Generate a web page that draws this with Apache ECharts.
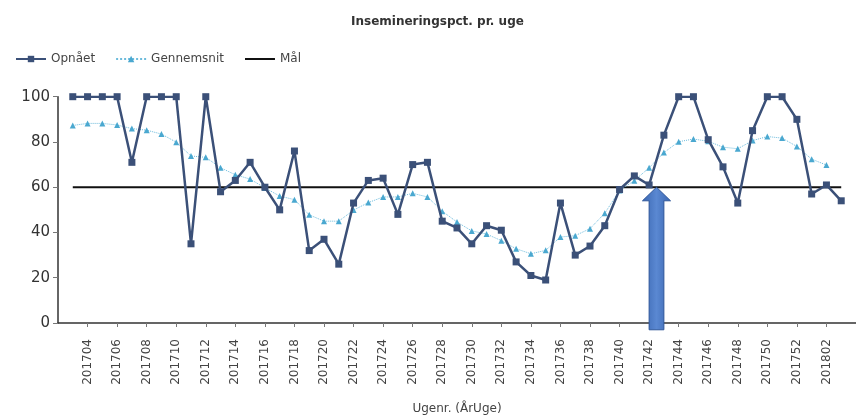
<!DOCTYPE html>
<html lang="da">

<head>
    <meta charset="UTF-8">
    <title>Insemineringspct. pr. uge</title>
    <script src="https://cdn.jsdelivr.net/npm/echarts@6/dist/echarts.min.js"></script>
    <style>
        html,
        body {
            margin: 0px;
            background-color: #fff;
        }

        #chart {
            width: 856px;
            height: 420px;
        }
    </style>
    <script>
        // uger 201703 .. 201803
        var weeks = ['201703', '201704', '201705', '201706', '201707', '201708', '201709', '201710', '201711', '201712',
            '201713', '201714', '201715', '201716', '201717', '201718', '201719', '201720', '201721', '201722',
            '201723', '201724', '201725', '201726', '201727', '201728', '201729', '201730', '201731', '201732',
            '201733', '201734', '201735', '201736', '201737', '201738', '201739', '201740', '201741', '201742',
            '201743', '201744', '201745', '201746', '201747', '201748', '201749', '201750', '201751', '201752',
            '201801', '201802', '201803'];

        var opnaaet = [100, 100, 100, 100, 71, 100, 100, 100, 35, 100,
            58, 63, 71, 60, 50, 76, 32, 37, 26, 53,
            63, 64, 48, 70, 71, 45, 42, 35, 43, 41,
            27, 21, 19, 53, 30, 34, 43, 59, 65, 61,
            83, 100, 100, 81, 69, 53, 85, 100, 100, 90,
            57, 61, 54];

        var gennemsnit = [87.3, 88.2, 88.2, 87.5, 85.9, 85.2, 83.5, 79.9, 73.8, 73.2,
            68.6, 65.5, 63.6, 59.7, 56.1, 54.5, 47.8, 45, 45, 49.9,
            53.2, 55.7, 55.7, 57.3, 55.7, 49.4, 44.6, 40.7, 39.3, 36.4,
            32.8, 30.6, 32.1, 38, 38.6, 41.7, 48.5, 58.6, 62.9, 68.6,
            75.3, 80.1, 81.3, 80.3, 77.7, 77, 80.6, 82.4, 81.7, 78,
            72.4, 69.8, null];

        var maal = 60;

        // pilen mellem 201742 og 201743
        var arrowWeek = '201742';
        var arrowTip = 60;
        var arrowHead = 54;
        var arrowBottom = -3;

        var font = 'DejaVu Sans';

        window.onload = () => {
            var chart = echarts.init(document.getElementById('chart'));
            // tom kategori foran og bagved, så punkterne ikke sidder på akserne
            var axisData = [''].concat(weeks).concat([' ']);
            var showLabel = (idx) => idx % 2 === 0 && idx >= 2 && idx <= weeks.length - 1;

            chart.setOption({
                animation: false,
                title: {
                    text: 'Insemineringspct. pr. uge',
                    left: 346,
                    top: 11,
                    textStyle: { fontFamily: font, fontSize: 12, fontWeight: 'bold', color: '#333' }
                },
                legend: {
                    data: ['Opnået', 'Gennemsnit', { name: 'Mål', itemStyle: { opacity: 0 } }],
                    left: 10,
                    top: 48,
                    itemWidth: 30,
                    itemHeight: 8,
                    itemGap: 20,
                    textStyle: { fontFamily: font, fontSize: 12, color: '#444' }
                },
                grid: { left: 58, top: 96.7, width: 801, height: 233.3 },
                xAxis: {
                    type: 'category',
                    data: axisData,
                    boundaryGap: false,
                    name: 'Ugenr. (ÅrUge)',
                    nameLocation: 'middle',
                    nameGap: 80,
                    nameTextStyle: { fontFamily: font, fontSize: 12, color: '#444' },
                    axisLine: { lineStyle: { color: '#333', width: 1.5 } },
                    axisTick: { interval: showLabel, length: 4, lineStyle: { color: '#777' } },
                    axisLabel: {
                        interval: showLabel,
                        rotate: 90,
                        margin: 16,
                        fontFamily: font,
                        fontSize: 12,
                        color: '#444'
                    },
                    splitLine: { show: false }
                },
                yAxis: {
                    type: 'value',
                    min: 0,
                    max: 100,
                    interval: 20,
                    axisLine: { show: true, lineStyle: { color: '#333', width: 1.5 } },
                    axisTick: { show: true, length: 5, lineStyle: { color: '#777' } },
                    axisLabel: { fontFamily: font, fontSize: 15, color: '#333', margin: 8 },
                    splitLine: { show: false }
                },
                series: [{
                    name: 'Opnået',
                    type: 'line',
                    data: weeks.map((w, i) => [w, opnaaet[i]]),
                    symbol: 'rect',
                    symbolSize: 7,
                    itemStyle: { color: '#3b5078' },
                    lineStyle: { color: '#3b5078', width: 2.5 },
                    z: 3
                }, {
                    name: 'Gennemsnit',
                    type: 'line',
                    data: weeks.map((w, i) => [w, gennemsnit[i]]),
                    symbol: 'triangle',
                    symbolSize: 6,
                    itemStyle: { color: '#4aa8d0' },
                    lineStyle: { color: '#6cbbdc', width: 1, type: 'dotted' },
                    z: 2
                }, {
                    name: 'Mål',
                    type: 'line',
                    data: weeks.map((w) => [w, maal]),
                    symbol: 'none',
                    itemStyle: { color: '#111' },
                    lineStyle: { color: '#111', width: 2 },
                    z: 1
                }, {
                    type: 'custom',
                    data: [[arrowWeek, arrowTip]],
                    z: 10,
                    renderItem: function (params, api) {
                        var a = api.coord([api.value(0), arrowTip]);
                        var b = api.coord([api.value(0) + 1, arrowTip]);
                        var step = b[0] - a[0];
                        var cx = (a[0] + b[0]) / 2;
                        var yTip = a[1];
                        var yHead = api.coord([api.value(0), arrowHead])[1];
                        var yBot = api.coord([api.value(0), arrowBottom])[1];
                        var hw = step * 0.95, sw = step * 0.5;
                        return {
                            type: 'polygon',
                            shape: {
                                points: [[cx, yTip], [cx + hw, yHead], [cx + sw, yHead], [cx + sw, yBot],
                                [cx - sw, yBot], [cx - sw, yHead], [cx - hw, yHead]]
                            },
                            style: {
                                fill: new echarts.graphic.LinearGradient(0, 0, 1, 0, [
                                    { offset: 0, color: '#3a66b0' },
                                    { offset: 0.5, color: '#5a88d2' },
                                    { offset: 1, color: '#3a66b0' }
                                ]),
                                stroke: '#2f579a',
                                lineWidth: 1
                            }
                        };
                    }
                }]
            });
        };
    </script>
</head>

<body>
    <div id="chart"></div>
</body>

</html>
